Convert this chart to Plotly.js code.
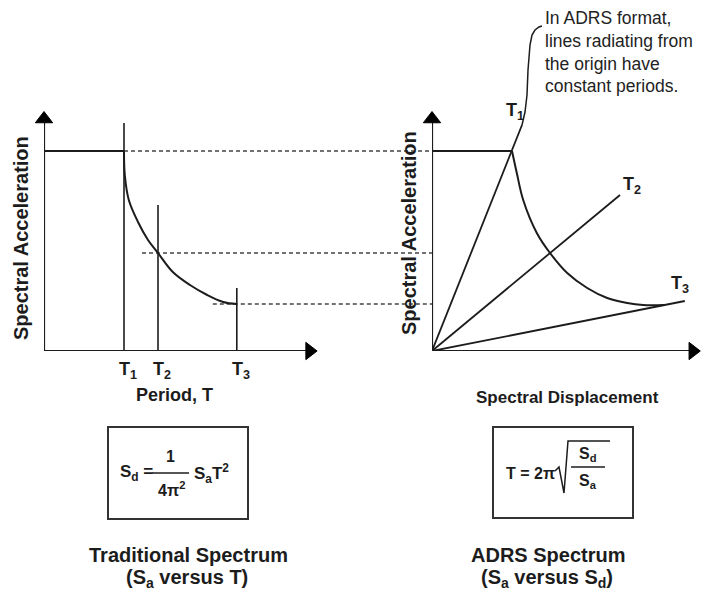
<!DOCTYPE html>
<html><head><meta charset="utf-8">
<script src="https://cdn.plot.ly/plotly-3.0.1.min.js"></script>
<style>html,body{margin:0;padding:0;background:#fff}</style>
</head><body><div id="chart" style="width:706px;height:599px"></div>
<script>
// ---------- Traditional spectrum (Sa versus T) ----------
const periodLabels = ['T<sub>1</sub>', 'T<sub>2</sub>', 'T<sub>3</sub>'];
const periods = [1.0, 1.425, 2.41];            // T1, T2, T3
const saAtPeriods = [1.0, 0.49, 0.235];        // Sa at T1, T2, T3
const periodLineTops = [1.14, 0.73, 0.315];    // top of the vertical period markers
const dashStartT = [1.0, 1.225, 2.11];         // where the dashed Sa guides begin
const plateauT = [0, 1.0];
const plateauSa = [1.0, 1.0];
const curveT  = [1.0, 1.01, 1.06, 1.175, 1.3, 1.425, 1.61, 1.825, 2.04, 2.24, 2.41];
const curveSa = [1.0, 0.88, 0.755, 0.645, 0.555, 0.49, 0.395, 0.33, 0.28, 0.245, 0.235];
const axisEndT = 3.32, axisEndSa = 1.16;

// ---------- ADRS spectrum (Sa versus Sd) ----------
const plateauSd = [0, 1.0];
const curveSd     = [1.0, 1.06, 1.14, 1.31, 1.475, 1.69, 1.94, 2.19, 2.44, 2.64, 2.9];
const curveSaAdrs = [1.0, 0.89, 0.755, 0.59, 0.49, 0.39, 0.315, 0.265, 0.24, 0.23, 0.23];
const radialEndSd = [1.125, 2.35, 3.16];
const radialEndSa = [1.13, 0.78, 0.25];
const axisEndSd = 3.26;

// ---------- layout helpers ----------
const W = 706, H = 599;
const px = x => x / W;
const py = y => 1 - y / H;
const FONT = 'Liberation Sans, Arial, Helvetica, sans-serif';
const INK = '#1c1c1c';

const xDom1 = [px(44), px(340)], xRange1 = [0, 3.7];
const yDom = [py(351), py(90)], yRange1 = [0, 1.305];
const xDom2 = [px(432), 1], xRange2 = [0, 3.425];
const yDom2 = [py(351), 1], yRange2 = [0, 1.755];
const tToPaper = t => xDom1[0] + (t - xRange1[0]) / (xRange1[1] - xRange1[0]) * (xDom1[1] - xDom1[0]);

const lineStyle = {color: INK, width: 2};
const traces = [];
// axes with arrowheads
const axisLine = (xa, ya, xs, ys) => ({x: xs, y: ys, xaxis: xa, yaxis: ya, mode: 'lines', line: {color: INK, width: 2.2}});
const axisHead = (xa, ya, x, y, sym) => ({x: [x], y: [y], xaxis: xa, yaxis: ya, mode: 'markers', cliponaxis: false,
  marker: {symbol: sym, size: 15, color: '#000', opacity: 1, line: {width: 1, color: '#000'}}});
traces.push(axisLine('x', 'y', [0, axisEndT], [0, 0]));
traces.push(axisLine('x', 'y', [0, 0], [0, axisEndSa]));
traces.push(axisLine('x2', 'y2', [0, axisEndSd], [0, 0]));
traces.push(axisLine('x2', 'y2', [0, 0], [0, axisEndSa]));
traces.push(axisHead('x', 'y', axisEndT, 0, 'triangle-right'));
traces.push(axisHead('x', 'y', 0, axisEndSa, 'triangle-up'));
traces.push(axisHead('x2', 'y2', axisEndSd, 0, 'triangle-right'));
traces.push(axisHead('x2', 'y2', 0, axisEndSa, 'triangle-up'));
// left chart
traces.push({x: plateauT, y: plateauSa, xaxis: 'x', yaxis: 'y', mode: 'lines', line: lineStyle});
traces.push({x: curveT, y: curveSa, xaxis: 'x', yaxis: 'y', mode: 'lines', line: {color: INK, width: 2, shape: 'spline'}});
periods.forEach((t, i) => {
  traces.push({x: [t, t], y: [0, periodLineTops[i]], xaxis: 'x', yaxis: 'y', mode: 'lines', line: {color: INK, width: 1.6}});
});
// right chart
traces.push({x: plateauSd, y: plateauSa, xaxis: 'x2', yaxis: 'y2', mode: 'lines', line: lineStyle});
traces.push({x: curveSd, y: curveSaAdrs, xaxis: 'x2', yaxis: 'y2', mode: 'lines', line: {color: INK, width: 2, shape: 'spline'}});
radialEndSd.forEach((sd, i) => {
  traces.push({x: [0, sd], y: [0, radialEndSa[i]], xaxis: 'x2', yaxis: 'y2', mode: 'lines', line: {color: INK, width: 1.8}});
});

const shapes = [];
// dashed guides from traditional to ADRS
saAtPeriods.forEach((sa, i) => {
  shapes.push({type: 'line', xref: 'paper', yref: 'y', x0: tToPaper(dashStartT[i]), x1: px(432), y0: sa, y1: sa,
    line: {color: '#444', width: 1.5, dash: '4px,3px'}, layer: 'below'});
});
// formula boxes
shapes.push({type: 'rect', xref: 'paper', yref: 'paper', x0: px(108), x1: px(248), y0: py(519), y1: py(427), line: {color: '#333', width: 2}});
shapes.push({type: 'rect', xref: 'paper', yref: 'paper', x0: px(493), x1: px(633), y0: py(518), y1: py(427), line: {color: '#333', width: 2}});
// fraction bars
shapes.push({type: 'line', xref: 'paper', yref: 'paper', x0: px(152), x1: px(189), y0: py(473), y1: py(473), line: {color: INK, width: 1.5}});
shapes.push({type: 'line', xref: 'paper', yref: 'paper', x0: px(571), x1: px(605), y0: py(467), y1: py(467), line: {color: INK, width: 1.5}});
// radical sign
const pathFrom = pts => pts.map((p, i) => (i ? 'L' : 'M') + px(p[0]).toFixed(5) + ',' + py(p[1]).toFixed(5)).join(' ');
shapes.push({type: 'path', xref: 'paper', yref: 'paper', path: pathFrom([[555, 471], [559, 467], [564, 493], [568, 441], [610, 441]]), line: {color: INK, width: 1.5}});
// leader line to the note
shapes.push({type: 'path', xref: 'paper', yref: 'paper', path: pathFrom([[522, 125], [525, 112], [527, 95], [528, 70], [530, 45], [532, 35], [535, 30], [539, 27], [542, 26]]), line: {color: INK, width: 1.5}});

const ann = [];
const txt = (text, x, y, size, opts) => Object.assign({xref: 'paper', yref: 'paper', x: px(x), y: py(y), text: text,
  showarrow: false, xanchor: 'center', yanchor: 'middle', font: {family: FONT, size: size, color: INK}}, opts || {});
const B = s => '<b>' + s + '</b>';

ann.push(txt(B('Spectral Acceleration'), 21, 238, 20, {textangle: -90}));
ann.push(txt(B('Spectral Acceleration'), 409, 233, 20, {textangle: -90}));
const leftLabelX = [128, 162, 241];
periodLabels.forEach((l, i) => ann.push(txt(B(l), leftLabelX[i], 370, 18)));
ann.push(txt(B('Period, T'), 174, 395, 18));
ann.push(txt(B('Spectral Displacement'), 567, 397, 17));
const rightLabelPos = [[515, 111], [632, 185], [680, 284]];
periodLabels.forEach((l, i) => ann.push(txt(B(l), rightLabelPos[i][0], rightLabelPos[i][1], 18)));

ann.push(txt('In ADRS format,<br>lines radiating from<br>the origin have<br>constant periods.', 543, 6, 17.5,
  {xanchor: 'left', yanchor: 'top', align: 'left', font: {family: FONT, size: 17.5, color: '#222'}}));

// formulas
ann.push(txt(B('S<sub>d</sub> ='), 118, 473, 17, {xanchor: 'left'}));
ann.push(txt(B('1'), 170, 457, 16));
ann.push(txt(B('4π<sup>2</sup>'), 171, 489, 16));
ann.push(txt(B('S<sub>a</sub>T<sup>2</sup>'), 192, 473, 17, {xanchor: 'left'}));
ann.push(txt(B('T = 2π'), 504, 473, 16, {xanchor: 'left'}));
ann.push(txt(B('S<sub>d</sub>'), 588, 454, 16));
ann.push(txt(B('S<sub>a</sub>'), 588, 481, 16));

ann.push(txt(B('Traditional Spectrum'), 188, 555, 20));
ann.push(txt(B('(S<sub>a</sub> versus T)'), 187, 578, 20));
ann.push(txt(B('ADRS Spectrum'), 548, 555, 20));
ann.push(txt(B('(S<sub>a</sub> versus S<sub>d</sub>)'), 547, 578, 20));

const hidden = {showgrid: false, zeroline: false, showticklabels: false, ticks: '', showline: false, fixedrange: true};
const layout = {
  width: W, height: H, margin: {l: 0, r: 0, t: 0, b: 0},
  paper_bgcolor: '#fff', plot_bgcolor: 'rgba(0,0,0,0)', showlegend: false,
  xaxis: Object.assign({domain: xDom1, range: xRange1, anchor: 'y'}, hidden),
  yaxis: Object.assign({domain: yDom, range: yRange1, anchor: 'x'}, hidden),
  xaxis2: Object.assign({domain: xDom2, range: xRange2, anchor: 'y2'}, hidden),
  yaxis2: Object.assign({domain: yDom2, range: yRange2, anchor: 'x2'}, hidden),
  shapes: shapes, annotations: ann, font: {family: FONT}
};
Plotly.newPlot('chart', traces, layout, {staticPlot: true, displayModeBar: false});
</script></body></html>
